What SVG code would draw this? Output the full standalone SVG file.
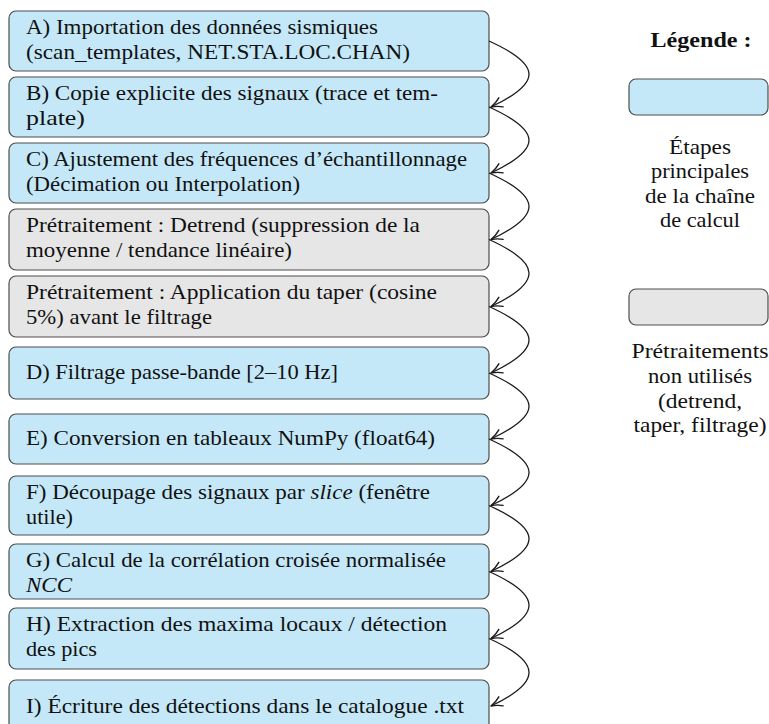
<svg xmlns="http://www.w3.org/2000/svg" width="769" height="724" viewBox="0 0 769 724">
<style>
.main{fill:#c5e8f8;stroke:#4d4d4d;stroke-width:1.2}
.pre{fill:#e6e6e6;stroke:#4d4d4d;stroke-width:1.2}
.conn{fill:none;stroke:#1a1a1a;stroke-width:1.3}
</style>
<defs>
<marker id="arr" viewBox="-13 -7 14 14" refX="0" refY="0" markerWidth="14" markerHeight="14" markerUnits="userSpaceOnUse" orient="auto">
<path d="M-11,-5 C-7.5,-2.5 -3,-0.8 0,0 C-3,0.8 -7.5,2.5 -11,5" fill="none" stroke="#1a1a1a" stroke-width="1.4" stroke-linecap="round" stroke-linejoin="round"/>
</marker>
</defs>
<g font-family="Liberation Serif" font-size="22" fill="#111">
<g id="nodeA"><rect class="main" x="9" y="11" width="480" height="60" rx="7"/>
<text x="26" y="34" textLength="352" lengthAdjust="spacingAndGlyphs">A) Importation des données sismiques</text>
<text x="26" y="59" textLength="384" lengthAdjust="spacingAndGlyphs">(scan_templates, NET.STA.LOC.CHAN)</text></g>
<g id="nodeB"><rect class="main" x="9" y="77" width="480" height="60" rx="7"/>
<text x="26" y="100" textLength="412" lengthAdjust="spacingAndGlyphs">B) Copie explicite des signaux (trace et tem-</text>
<text x="26" y="125" textLength="59" lengthAdjust="spacingAndGlyphs">plate)</text></g>
<g id="nodeC"><rect class="main" x="9" y="143" width="480" height="60" rx="7"/>
<text x="26" y="166" textLength="441" lengthAdjust="spacingAndGlyphs">C) Ajustement des fréquences d’échantillonnage</text>
<text x="26" y="191" textLength="274" lengthAdjust="spacingAndGlyphs">(Décimation ou Interpolation)</text></g>
<g id="nodeDetrend"><rect class="pre" x="9" y="209" width="480" height="61" rx="7"/>
<text x="26" y="232" textLength="394" lengthAdjust="spacingAndGlyphs">Prétraitement : Detrend (suppression de la</text>
<text x="26" y="257" textLength="266" lengthAdjust="spacingAndGlyphs">moyenne / tendance linéaire)</text></g>
<g id="nodeTaper"><rect class="pre" x="9" y="276" width="480" height="61" rx="7"/>
<text x="26" y="299" textLength="411" lengthAdjust="spacingAndGlyphs">Prétraitement : Application du taper (cosine</text>
<text x="26" y="324" textLength="186" lengthAdjust="spacingAndGlyphs">5%) avant le filtrage</text></g>
<g id="nodeD"><rect class="main" x="9" y="347" width="480" height="52" rx="7"/>
<text x="26" y="378.5" textLength="312" lengthAdjust="spacingAndGlyphs">D) Filtrage passe-bande [2–10 Hz]</text></g>
<g id="nodeE"><rect class="main" x="9" y="414" width="480" height="50" rx="7"/>
<text x="26" y="444.5" textLength="409" lengthAdjust="spacingAndGlyphs">E) Conversion en tableaux NumPy (float64)</text></g>
<g id="nodeF"><rect class="main" x="9" y="476" width="480" height="59" rx="7"/>
<text x="26" y="499" textLength="404" lengthAdjust="spacingAndGlyphs">F) Découpage des signaux par <tspan font-style="italic">slice</tspan> (fenêtre</text>
<text x="26" y="524" textLength="47" lengthAdjust="spacingAndGlyphs">utile)</text></g>
<g id="nodeG"><rect class="main" x="9" y="544" width="480" height="55" rx="7"/>
<text x="26" y="567" textLength="420" lengthAdjust="spacingAndGlyphs">G) Calcul de la corrélation croisée normalisée</text>
<text font-style="italic" x="26" y="592" textLength="46" lengthAdjust="spacingAndGlyphs">NCC</text></g>
<g id="nodeH"><rect class="main" x="9" y="608" width="480" height="61" rx="7"/>
<text x="26" y="631" textLength="421" lengthAdjust="spacingAndGlyphs">H) Extraction des maxima locaux / détection</text>
<text x="26" y="656" textLength="71" lengthAdjust="spacingAndGlyphs">des pics</text></g>
<g id="nodeI"><rect class="main" x="9" y="680" width="480" height="52" rx="7"/>
<text x="26" y="713" textLength="438" lengthAdjust="spacingAndGlyphs">I) Écriture des détections dans le catalogue .txt</text></g>
<g id="legend" text-anchor="middle">
<text font-weight="bold" x="701" y="47" textLength="101" lengthAdjust="spacingAndGlyphs">Légende :</text>
<g id="legendMain"><rect class="main" x="629" y="79" width="139" height="36" rx="7"/>
<text x="700" y="154" textLength="62" lengthAdjust="spacingAndGlyphs">Étapes</text>
<text x="700" y="178" textLength="98" lengthAdjust="spacingAndGlyphs">principales</text>
<text x="700" y="202.5" textLength="110" lengthAdjust="spacingAndGlyphs">de la chaîne</text>
<text x="700" y="227" textLength="80" lengthAdjust="spacingAndGlyphs">de calcul</text></g>
<g id="legendPre"><rect class="pre" x="629" y="289" width="139" height="36" rx="7"/>
<text x="700" y="358" textLength="137" lengthAdjust="spacingAndGlyphs">Prétraitements</text>
<text x="700" y="383" textLength="104" lengthAdjust="spacingAndGlyphs">non utilisés</text>
<text x="700" y="407.5" textLength="84" lengthAdjust="spacingAndGlyphs">(detrend,</text>
<text x="700" y="432" textLength="133" lengthAdjust="spacingAndGlyphs">taper, filtrage)</text></g>
</g>
</g>
<g id="connectors">
<path class="conn" marker-end="url(#arr)" d="M489,41 C542,65 542,83 491,107"/>
<path class="conn" marker-end="url(#arr)" d="M489,107 C542,131 542,149 491,173"/>
<path class="conn" marker-end="url(#arr)" d="M489,173 C542,197 542,215.5 491,239.5"/>
<path class="conn" marker-end="url(#arr)" d="M489,239.5 C542,263.5 542,282.5 491,306.5"/>
<path class="conn" marker-end="url(#arr)" d="M489,306.5 C542,330.5 542,349 491,373"/>
<path class="conn" marker-end="url(#arr)" d="M489,373 C542,397 542,415 491,439"/>
<path class="conn" marker-end="url(#arr)" d="M489,439 C542,463 542,481.5 491,505.5"/>
<path class="conn" marker-end="url(#arr)" d="M489,505.5 C542,529.5 542,547.5 491,571.5"/>
<path class="conn" marker-end="url(#arr)" d="M489,571.5 C542,595.5 542,614.5 491,638.5"/>
<path class="conn" marker-end="url(#arr)" d="M489,638.5 C542,662.5 542,682 491,706"/>
</g>
</svg>
